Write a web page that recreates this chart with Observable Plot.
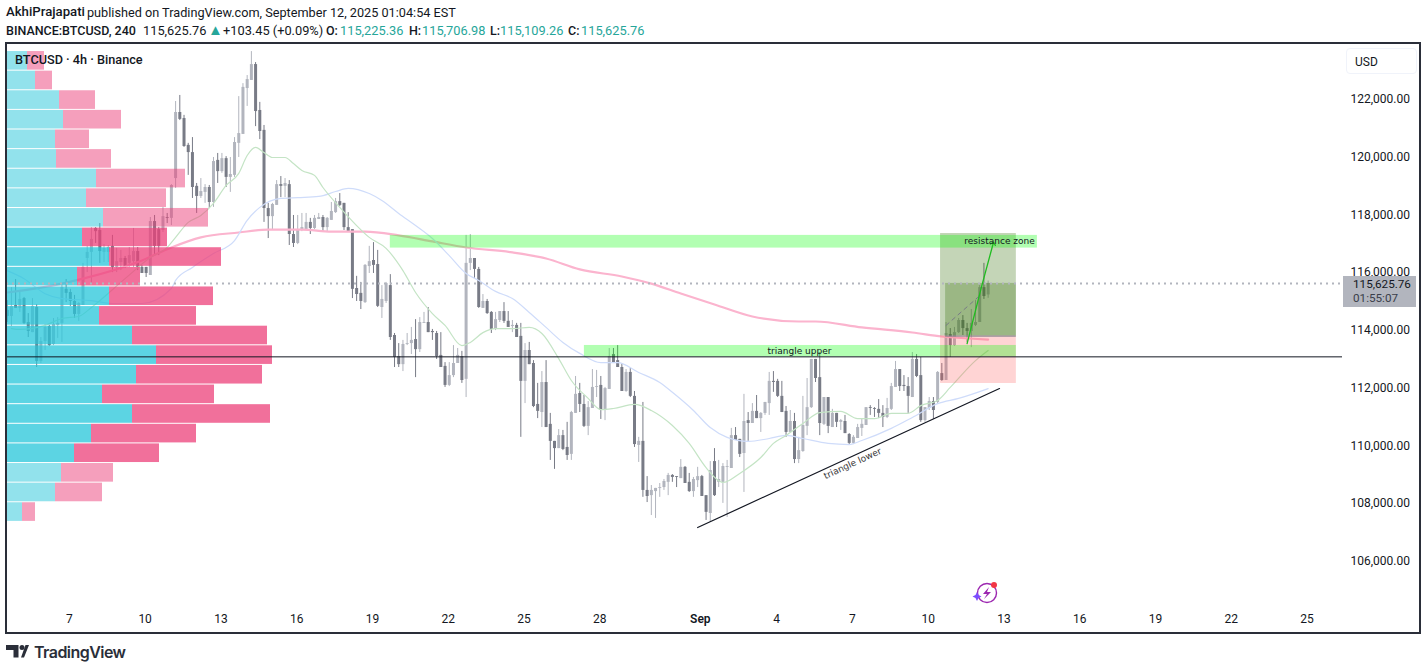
<!DOCTYPE html>
<html>
<head>
<meta charset="utf-8">
<script src="https://cdn.jsdelivr.net/npm/d3@7"></script>
<script src="https://cdn.jsdelivr.net/npm/@observablehq/plot@0.6"></script>
<style>
  html, body { margin: 0; background: #fff; }
  body { width: 1427px; height: 670px; overflow: hidden; position: relative; font-family: Roboto, sans-serif; color: #131722; }
  #header { height: 43px; position: relative; font-size: 12.8px; }
  #header span { position: absolute; white-space: nowrap; }
  #header .a { top: 5px; font-size: 12.7px; }
  #header .b { top: 23px; }
  #header .m { font-weight: 500; font-size: 12.5px; }
  #header .a.m { font-size: 13.2px; top: 4px; }
  #header .t { color: #26a69a; }
  #pane { position: relative; width: 1427px; height: 590px; }
  #pane svg { position: absolute; left: 0; top: 0; }
  #frame { position: absolute; left: 5px; top: -1px; width: 1412px; height: 588px; border: 2px solid #2a2e39; }
  #legend { position: absolute; left: 15px; top: 9px; font-size: 12.7px; font-weight: 500; line-height: 16px; }
  #usd { position: absolute; left: 1346px; top: 5px; width: 69px; height: 24px; border: 1px solid #f0f3fa; border-radius: 4px; font-size: 12px; line-height: 26px; text-indent: 8px; }
  #last { position: absolute; left: 1343px; top: 233px; width: 73px; height: 31px; background: #b2b5be; font-size: 11.7px; line-height: 14px; }
  #last span { position: absolute; left: 10px; white-space: nowrap; }
  #footer { position: absolute; left: 6px; top: 641px; height: 22px; }
  #footer svg { position: absolute; left: 0; top: 4px; }
  #footer span { position: absolute; left: 28px; top: 1px; font: 600 16px/20px Inter, sans-serif; letter-spacing: -0.55px; color: #2a2e39; }
</style>
</head>
<body>
<div id="header">
  <span class="a m" style="left:6px">AkhiPrajapati</span>
  <span class="a" style="left:87px">published on TradingView.com, September 12, 2025 01:04:54 EST</span>
  <span class="b m" style="left:6px">BINANCE:BTCUSD, 240</span>
  <span class="b" style="left:143px">115,625.76</span>
  <span class="b t" style="left:208px;font-size:15px;top:21px">▲</span>
  <span class="b" style="left:223px">+103.45 (+0.09%)</span>
  <span class="b m" style="left:326px">O:</span><span class="b t" style="left:340px">115,225.36</span>
  <span class="b m" style="left:409px">H:</span><span class="b t" style="left:422px">115,706.98</span>
  <span class="b m" style="left:490px">L:</span><span class="b t" style="left:500px">115,109.26</span>
  <span class="b m" style="left:568px">C:</span><span class="b t" style="left:581px">115,625.76</span>
</div>
<div id="pane"></div>
<div id="footer">
  <svg width="23" height="13" viewBox="0 0 23 13"><path d="M0 0h12.5v12.5H7.5V5H0z M15 12.5L19.5 0H23L18 12.5z" fill="#2a2e39"/><circle cx="16" cy="2.5" r="2.5" fill="#2a2e39"/></svg>
  <span>TradingView</span>
</div>
<script>
// 4h candles, oldest first
const opens = [
114690,114480,114860,114760,115100,114270,113920,114790,112920,113610,
114130,113510,114170,114240,115420,115310,115000,114550,114860,116490,
116700,117530,117460,116700,116700,116910,116180,116350,116490,116320,
116380,116730,116180,116180,115900,117770,117490,117460,117910,117880,
119260,121550,121340,120410,120160,118990,118640,118780,118950,118430,
119890,119500,119950,119300,119370,120480,120790,122380,122660,123210,
121620,120930,118220,117940,118330,119050,118990,119050,117320,117010,
117460,117490,117740,117530,117840,117910,117560,117810,118080,118460,
118400,117560,117490,115450,115280,114960,116210,116420,116280,114790,
115000,115550,113820,113090,112810,113510,113540,113680,113330,114240,
114270,113960,113890,113130,112750,112090,112430,112850,113090,112300,
116320,116490,116110,114760,115000,114620,114030,114340,114650,114310,
114130,114170,113790,112230,113300,112850,111430,111150,112190,110740,
110150,109900,110350,109940,109700,111120,111810,111430,110670,111290,
112020,112090,111220,111950,113160,112950,112710,111880,112540,111710,
110010,110150,108450,108270,108410,108520,108550,108730,108970,108930,
108860,109250,108730,108410,108790,108930,108270,107650,109450,108730,
108730,109250,109210,110350,110220,109730,110870,110770,111190,110940,
111120,111460,112230,112230,111710,111190,110460,110840,109520,109800,
110670,111320,112990,112360,110740,111670,110630,111120,110810,110840,
110390,110080,110250,110600,110700,111320,111290,111260,111120,110980,
111260,112020,112640,112090,112050,111670,112990,112430,110870,111290,
111530,111500,112500,112260,113850,113470,113920,114340,114060,113960,
114170,114270,115480,115225.36];
const highs = [
115030,115480,115760,115350,115140,114580,115100,114890,113750,114200,
114170,114410,114440,115620,115760,115420,115210,114960,116320,116910,
117560,117560,117700,116970,116940,117290,116840,116770,116560,116870,
117530,116870,116250,116180,117910,117980,117560,118260,118050,119050,
121930,122140,121450,120480,120680,119090,119260,119050,119020,119990,
120130,120130,120020,119990,120680,122100,122550,122830,123660,123280,
121900,121100,118400,118400,119190,119330,119260,119190,117980,117980,
118050,118050,117880,117980,118050,117980,117910,118430,118570,118740,
118400,118080,117490,115870,115660,116280,116910,117040,116770,115550,
115660,115930,113890,113540,113650,113890,114100,114370,114440,114620,
114790,114030,113960,113920,112880,112880,113470,113370,113270,117290,
117320,116320,116180,115240,115070,114650,114620,114650,114960,114650,
114340,114240,114240,113540,113580,112950,112160,112570,112950,111120,
110150,110560,110530,110810,111190,112400,112160,111740,111530,112640,
112610,112400,112020,113370,113370,113470,112850,112640,112680,111880,
110290,111500,108930,108620,108520,108690,108830,109040,109000,108930,
109520,109280,109040,108900,109250,108970,108270,109450,109900,109490,
109380,109490,110600,110630,110220,111780,111150,111460,111740,111150,
111500,112540,112570,112300,112230,111360,111220,111120,110290,111710,
112330,112990,112990,113230,111670,111670,111260,111120,110910,111050,
110420,110350,110740,110910,111320,111390,111320,111600,111390,111640,
112160,112920,112640,112430,112360,113230,113160,113060,111320,111670,
111670,112570,112850,114270,114060,114100,114410,114510,114240,114720,
115030,115550,116320,115706.98];
const lows = [
114270,114130,114760,114620,114200,113750,113920,112710,112850,113300,
113440,113470,113720,113580,114960,114830,114410,114310,114860,116000,
115620,117010,116320,116350,116350,116000,116000,116070,116140,116180,
116180,116070,115970,115830,115900,116590,116590,117390,117700,117630,
118920,121270,120340,119370,118570,118050,118570,118400,118220,118260,
119090,119440,118950,118780,119300,119990,120790,121760,122660,121060,
120610,117740,117180,117460,118330,118600,118600,116940,116870,116970,
117420,117460,117320,117490,117840,117390,117390,117810,118050,118290,
117460,117420,115100,115000,114720,114930,115970,115970,114790,114410,
114930,113650,112710,112710,112570,113470,113160,112360,113230,114240,
113920,113650,112990,112710,112020,112050,112360,112850,112160,111670,
116070,115800,114760,114760,114550,113890,113990,114270,114240,114100,
113920,113750,110290,111460,112810,111320,110940,110630,110630,109490,
109180,109900,109830,109490,109490,111120,111150,110630,110350,111290,
111670,110910,110870,111950,112880,112710,111880,111850,111670,109940,
109420,108210,108030,107580,107480,108210,108450,108270,108730,108550,
108860,108690,108380,108210,108550,108240,107410,107340,108240,108550,
108000,107510,109210,110180,109590,108380,110150,110770,110940,110460,
111050,111050,111850,111670,111150,110290,110460,109380,109380,109770,
110350,111290,112190,110350,110700,110420,110630,110630,110530,110420,
110040,110040,110250,110320,110700,111050,110980,110940,110630,110940,
111220,112020,111880,111880,111120,111670,112360,110810,110810,111220,
110910,111460,112230,112260,113060,113440,113890,113820,113580,113400,
114130,114270,115070,115109.26];
const closes = [
114480,114830,114760,115070,114240,113960,114830,112920,113610,114100,
113470,114200,114240,115480,115280,115000,114550,114930,116180,116700,
117150,117420,116730,116840,116870,116180,116380,116490,116180,116590,
116730,116180,115970,115970,117770,116910,116910,117940,117880,119020,
121550,121310,120370,120160,118950,118640,118810,118950,118430,119850,
119500,119950,119300,119400,120510,120820,122420,122690,123210,121580,
120890,118220,117940,118360,119050,118990,119090,117320,117010,117490,
117560,117740,117530,117880,117910,117560,117880,118120,118460,118330,
117560,117420,115420,115240,115000,116250,116380,116250,114830,115070,
115620,113750,113060,112810,113510,113540,113650,113330,114270,114270,
113920,113920,113090,112710,112090,112430,112850,113130,112260,116320,
116490,116110,114790,115000,114580,114030,114370,114650,114310,114100,
114170,113750,112230,113300,112810,111360,111190,112190,110630,110150,
109900,110350,109870,109660,111150,111780,111430,110670,111320,112020,
112050,111220,111980,113090,112880,112710,111880,112540,111710,110040,
110150,108450,108240,108450,108520,108550,108760,108970,108900,108900,
109250,108690,108410,108830,108930,108240,107690,109140,108270,108830,
109280,109280,110350,110180,109700,110840,110770,111190,110940,111120,
111500,112230,112190,111710,111150,110460,110840,109520,109830,110700,
111320,112990,112330,110770,111670,110670,111120,110810,110870,110420,
110080,110290,110630,110740,111320,111290,111260,111120,110980,111290,
112050,112640,112050,112050,111710,112990,112400,110870,111320,111530,
111220,112540,112260,113890,113470,113920,114340,114060,113960,114240,
114270,115480,115170,115625.76];

// moving averages, sampled as (bar number, price)
const greenBars = [2,4,10,14,18,21,29,35,39,41,44,47,50,53,56,58,60,62,64,67,69,71,74,76,80,84,87,91,95,98,102,105,109,111,114,117,121,125,128,132,135,139,142,145,150,154,159,163,167,170,171,175,180,183,186,190,194,199,203,207,211,215,218,222,225,231,234];
const greenValues = [114060,114030,114170,114410,114480,114790,115790,116520,116870,117220,117740,117980,118400,119020,119440,120060,120340,120160,119990,119990,119780,119540,119370,118950,118260,117630,117220,116840,116070,115310,114580,114170,113470,113580,113920,114060,114060,114100,113890,113020,112260,111640,111250,111290,111430,111220,110700,110080,109240,108790,108725,109040,109590,110080,110355,110770,111150,111190,110940,110940,111120,111120,111390,111570,112020,112950,113300];
const blueBars = [1,5,10,14,21,26,33,40,41,45,50,55,58,61,66,70,75,79,82,87,90,94,98,102,106,110,113,117,121,125,129,133,137,142,146,151,156,159,164,168,172,177,182,186,190,196,201,204,211,216,222,227,234];
const blueValues = [116070,115790,115270,115100,115030,114930,114930,115450,115730,116180,116660,117110,117810,118260,118570,118600,118640,118810,118920,118740,118500,118050,117630,117180,116590,115970,115730,115350,115100,114620,114100,113580,113200,112880,112880,112540,112190,111850,111220,110630,110290,110150,110250,110355,110250,110080,110040,110180,110600,110980,111460,111640,111980];
const pinkBars = [1,9,14,19,33,40,47,56,63,71,78,86,94,102,110,121,129,137,147,154,161,169,178,189,193,204,216,223,234];
const pinkValues = [115310,115480,115620,115790,116420,116870,117220,117390,117490,117490,117420,117420,117290,117080,116870,116700,116490,116110,115865,115620,115275,114895,114480,114305,114305,114100,113925,113785,113680];

// volume profile, rows top to bottom
const binEdges = [123680,123000,122320,121640,120960,120280,119600,118920,118240,117560,116880,116200,115520,114840,114160,113480,112800,112120,111440,110760,110080,109400,108720,108040,107360];
const buyVolume = [21,29,53,57,49,50,90,80,97,76,103,71,103,93,126,150,130,96,126,85,68,55,49,16];
const sellVolume = [17,17,36,58,34,55,89,80,105,85,112,63,104,97,135,116,126,112,138,105,85,52,47,13];
const valueArea = [false,false,false,false,false,false,false,false,false,true,true,true,true,true,true,true,true,true,true,true,true,false,false,false];

const priceTicks = [106000,108000,110000,112000,114000,116000,118000,120000,122000];
const dayTicks = [[7,7],[7,10],[7,13],[7,16],[7,19],[7,22],[7,25],[7,28],[8,1],[8,4],[8,7],[8,10],[8,13],[8,16],[8,19],[8,22],[8,25]];
const lastPrice = 115625.76;
const hLine = 113080;

const W = 1427, H = 590;
const priceDomain = [104531, 123941];
const fontStyle = {fontFamily: "Roboto, sans-serif", fontSize: "12px", color: "#131722", background: "transparent", overflow: "visible"};

// bar 16 is the 7 Aug label, one bar is 4 hours
const barTime = i => new Date(Date.UTC(2025, 7, 7) + (i - 16) * 4 * 3600e3);
const candles = opens.map((o, i) => ({t: barTime(i + 1), o, h: highs[i], l: lows[i], c: closes[i], up: closes[i] >= o}));
const series = (bars, values) => bars.map((b, i) => ({t: barTime(b), v: values[i]}));
const candleColor = d => d.up ? "#b2b5be" : "#787b86";

const zones = [
  {b1: 92, b2: 245.7, p1: 116850, p2: 117290},
  {b1: 138.1, b2: 240.7, p1: 113075, p2: 113475}
];

const chart = Plot.plot({
  width: W, height: H,
  marginLeft: 6, marginRight: 85, marginTop: 0, marginBottom: 30,
  style: fontStyle,
  x: {type: "utc", domain: [barTime(0.834), barTime(318.17)], axis: null},
  y: {domain: priceDomain, axis: null},
  marks: [
    Plot.axisY({anchor: "right", ticks: priceTicks, tickSize: 0, tickPadding: 8, tickFormat: d3.format(",.2f"), label: null}),
    Plot.axisX(dayTicks.map(d => new Date(Date.UTC(2025, d[0], d[1]))).filter(d => d.getUTCDate() != 1), {anchor: "bottom", tickSize: 0, tickPadding: 11, dx: -1, tickFormat: d => d.getUTCDate(), label: null}),
    Plot.text(["Sep"], {x: new Date(Date.UTC(2025, 8, 1)), frameAnchor: "bottom", dx: -1.5, dy: 19, fontWeight: 600, fontSize: 12, fill: "#131722", text: d => d}),
    // candles
    Plot.ruleX(candles, {x: "t", y1: "l", y2: "h", stroke: candleColor, strokeWidth: 1}),
    Plot.ruleX(candles, {x: "t", y1: "o", y2: "c", stroke: candleColor, strokeWidth: 3}),
    // moving averages
    Plot.line(series(pinkBars, pinkValues), {x: "t", y: "v", stroke: "#fbb4ce", strokeWidth: 2.2, curve: "monotone-x"}),
    Plot.line(series(blueBars, blueValues), {x: "t", y: "v", stroke: "#cfdcfa", strokeWidth: 1.2, curve: "monotone-x"}),
    Plot.line(series(greenBars, greenValues), {x: "t", y: "v", stroke: "#c4e4c5", strokeWidth: 1.2, curve: "monotone-x"}),
    // long position tool
    Plot.rect([0], {x1: barTime(222.7), x2: barTime(240.7), y1: 113800, y2: 117355, fill: "#3a7312", fillOpacity: 0.3}),
    Plot.rect([0], {x1: barTime(223.9), x2: barTime(240.7), y1: 113800, y2: lastPrice, fill: "#3a7312", fillOpacity: 0.3}),
    Plot.rect([0], {x1: barTime(222.7), x2: barTime(240.7), y1: 112157, y2: 113800, fill: "#ff5252", fillOpacity: 0.25}),
    Plot.ruleY([113800], {x1: barTime(223.9), x2: barTime(240.7), stroke: "#787b86", strokeWidth: 1}),
    // zones and drawings
    Plot.rect(zones, {x1: d => barTime(d.b1), x2: d => barTime(d.b2), y1: "p1", y2: "p2", fill: "#00ff00", fillOpacity: 0.3}),
    Plot.line(series([224, 232], [114170, 115200]), {x: "t", y: "v", stroke: "#787b86", strokeWidth: 1, strokeDasharray: "4 4"}),
    Plot.line(series([229, 232.5, 235.2], [113540, 115550, 117010]), {x: "t", y: "v", stroke: "#1fbd1f", strokeWidth: 1.3, markerEnd: "arrow"}),
    Plot.line(series([165, 236.7], [107165, 111983]), {x: "t", y: "v", stroke: "#131722", strokeWidth: 1.2}),
    Plot.text(["triangle upper"], {x: barTime(189.2), y: 113290, text: d => d, fontFamily: "DejaVu Sans", fontSize: 9, fill: "#131722"}),
    Plot.text(["resistance zone"], {x: barTime(236.7), y: 117080, text: d => d, fontFamily: "DejaVu Sans", fontSize: 9, fill: "#131722"}),
    Plot.text(["triangle lower"], {x: barTime(201.8), y: 109383, text: d => d, rotate: -24.7, fontFamily: "DejaVu Sans", fontSize: 9, fill: "#3a3a3a"})
  ]
});

const rows = buyVolume.map((b, i) => ({buy: b, sell: sellVolume[i], top: binEdges[i], bottom: binEdges[i + 1], inner: valueArea[i]}));

const profile = Plot.plot({
  width: W, height: H,
  marginLeft: 6, marginRight: 85, marginTop: 0, marginBottom: 30,
  style: fontStyle,
  x: {domain: [0, 1336], axis: null},
  y: {domain: priceDomain, axis: null},
  marks: [
    Plot.rect(rows, {x1: 0, x2: "buy", y1: "bottom", y2: "top", insetTop: 0.5, insetBottom: 0.5, fill: "#26c6da", fillOpacity: d => d.inner ? 0.75 : 0.5}),
    Plot.rect(rows, {x1: "buy", x2: d => d.buy + d.sell, y1: "bottom", y2: "top", insetTop: 0.5, insetBottom: 0.5, fill: "#ec407a", fillOpacity: d => d.inner ? 0.75 : 0.5}),
    Plot.ruleY([lastPrice], {stroke: "#b2b5be", strokeWidth: 2, strokeDasharray: "2 4"}),
    Plot.ruleY([hLine], {stroke: "#131722", strokeWidth: 1})
  ]
});

const pane = document.getElementById("pane");
pane.append(chart);
pane.append(profile);
pane.insertAdjacentHTML("beforeend", `
  <div id="frame"></div>
  <div id="legend">BTCUSD · 4h · Binance</div>
  <div id="usd">USD</div>
  <div id="last"><span style="top:1px;color:#131722">115,625.76</span><span style="top:15px;color:#3a3e4a">01:55:07</span></div>
  <svg style="left:970px;top:537px" width="32" height="26" viewBox="0 0 32 26">
    <circle cx="17" cy="13" r="9.5" fill="none" stroke="#9c27b0" stroke-width="1.4"/>
    <path d="M19 7l-6 7h4l-3 5 7-7h-4z" fill="#9c27b0"/>
    <circle cx="24" cy="5" r="3" fill="#f23645"/>
    <path d="M7 12l1.5 3 3 1.5-3 1.5-1.5 3-1.5-3-3-1.5 3-1.5z" fill="#7c4dff"/>
  </svg>`);
</script>
</body>
</html>
